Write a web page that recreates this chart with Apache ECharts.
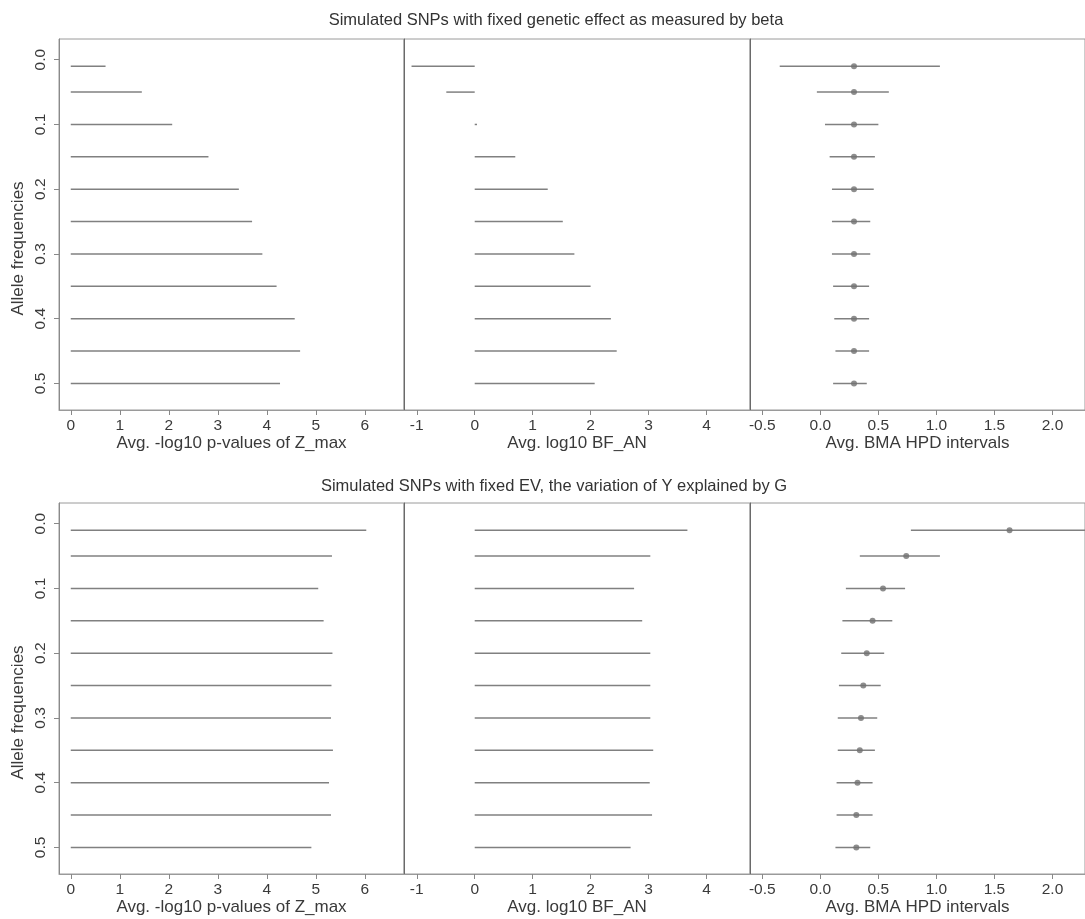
<!DOCTYPE html>
<html>
<head>
<meta charset="utf-8">
<script src="https://cdn.jsdelivr.net/npm/echarts@6/dist/echarts.min.js"></script>
<style>
html,body{margin:0;padding:0;background:#fff;}
#c{width:1085px;height:919px;}
</style>
</head>
<body>
<div id="c"></div>
<script>
// ---- data ----
var freqs = [0.01, 0.05, 0.10, 0.15, 0.20, 0.25, 0.30, 0.35, 0.40, 0.45, 0.50];
var yTicks = [0.0, 0.1, 0.2, 0.3, 0.4, 0.5];
var xTicksZ = [0, 1, 2, 3, 4, 5, 6];
var xTicksBF = [-1, 0, 1, 2, 3, 4];
var xTicksHPD = [-0.5, 0.0, 0.5, 1.0, 1.5, 2.0];

// Row 1: fixed genetic effect (beta)
var betaZmax = [0.71, 1.45, 2.07, 2.81, 3.43, 3.70, 3.91, 4.20, 4.57, 4.68, 4.27];
var betaBF = [-1.09, -0.49, 0.04, 0.70, 1.26, 1.52, 1.72, 2.00, 2.35, 2.45, 2.07];
var betaHpdLo = [-0.35, -0.03, 0.04, 0.08, 0.10, 0.10, 0.10, 0.11, 0.12, 0.13, 0.11];
var betaHpdMid = [0.29, 0.29, 0.29, 0.29, 0.29, 0.29, 0.29, 0.29, 0.29, 0.29, 0.29];
var betaHpdHi = [1.03, 0.59, 0.50, 0.47, 0.46, 0.43, 0.43, 0.42, 0.42, 0.42, 0.40];

// Row 2: fixed EV
var evZmax = [6.03, 5.33, 5.05, 5.16, 5.34, 5.32, 5.31, 5.35, 5.27, 5.31, 4.91];
var evBF = [3.67, 3.03, 2.75, 2.89, 3.03, 3.03, 3.03, 3.08, 3.02, 3.06, 2.69];
var evHpdLo = [0.78, 0.34, 0.22, 0.19, 0.18, 0.16, 0.15, 0.15, 0.14, 0.14, 0.13];
var evHpdMid = [1.63, 0.74, 0.54, 0.45, 0.40, 0.37, 0.35, 0.34, 0.32, 0.31, 0.31];
var evHpdHi = [2.60, 1.03, 0.73, 0.62, 0.55, 0.52, 0.49, 0.47, 0.45, 0.45, 0.43];

var titles = ['Simulated SNPs with fixed genetic effect as measured by beta',
              'Simulated SNPs with fixed EV, the variation of Y explained by G'];
var xNames = ['Avg. -log10 p-values of Z_max', 'Avg. log10 BF_AN', 'Avg. BMA HPD intervals'];
var yName = 'Allele frequencies';

// ---- build ----
var FONT = 'Liberation Sans, Arial, sans-serif';
var LINE = '#808080';
var TXT = '#3a3a3a';
var colLeft = [59, 404, 750];
var colWidth = [345, 346, 335];
var rowTop = [39, 503];
var rowHeight = 371;
var xRanges = [[-0.24, 6.80], [-1.22, 4.75], [-0.606, 2.28]];
var xTickSets = [xTicksZ, xTicksBF, xTicksHPD];

function toIntervals(lo, hi) {
  return freqs.map(function (f, i) { return [f, lo[i], hi[i]]; });
}
function fromZero(vals) {
  return freqs.map(function (f, i) { return [f, Math.min(0, vals[i]), Math.max(0, vals[i])]; });
}
var panelData = [
  [fromZero(betaZmax), fromZero(betaBF), toIntervals(betaHpdLo, betaHpdHi)],
  [fromZero(evZmax), fromZero(evBF), toIntervals(evHpdLo, evHpdHi)]
];
var panelMid = [betaHpdMid, evHpdMid];

function renderInterval(params, api) {
  var y = api.value(0), lo = api.value(1), hi = api.value(2);
  var p1 = api.coord([lo, y]);
  var p2 = api.coord([hi, y]);
  return {
    type: 'line',
    shape: {x1: p1[0], y1: p1[1], x2: p2[0], y2: p2[1]},
    style: {stroke: LINE, lineWidth: 1.5}
  };
}

var grids = [], xAxes = [], yAxes = [], series = [];
for (var r = 0; r < 2; r++) {
  for (var c = 0; c < 3; c++) {
    var idx = r * 3 + c;
    grids.push({
      left: colLeft[c], top: rowTop[r], width: colWidth[c], height: rowHeight,
      show: true, borderColor: '#9a9a9a', borderWidth: 1, backgroundColor: 'transparent',
      containLabel: false
    });
    var isHpd = (c === 2);
    xAxes.push({
      type: 'value', gridIndex: idx, position: 'bottom',
      min: xRanges[c][0], max: xRanges[c][1],
      splitLine: {show: false},
      axisLine: {show: true, onZero: false, lineStyle: {color: '#9a9a9a', width: 1}},
      axisTick: {show: true, inside: false, length: 5, lineStyle: {color: '#888'},
                 customValues: xTickSets[c]},
      axisLabel: {show: true, margin: 8, color: TXT, fontSize: 15.5, fontFamily: FONT,
                  customValues: xTickSets[c],
                  formatter: (function (h) { return function (v) { return h ? v.toFixed(1) : String(Math.round(v)); }; })(isHpd)},
      name: xNames[c], nameLocation: 'middle', nameGap: 25,
      nameTextStyle: {color: TXT, fontSize: 17, fontFamily: FONT}
    });
    var yA = {
      type: 'value', gridIndex: idx, inverse: true,
      min: -0.032, max: 0.541,
      splitLine: {show: false},
      axisLine: {show: true, onZero: false, lineStyle: {color: c === 0 ? '#8a8a8a' : '#6a6a6a', width: 1}},
      axisTick: {show: c === 0, length: 5, lineStyle: {color: '#888'}, customValues: yTicks},
      axisLabel: {show: c === 0, rotate: 90, margin: 10, color: TXT, fontSize: 15.5, fontFamily: FONT,
                  customValues: yTicks,
                  formatter: function (v) { return v.toFixed(1); }}
    };
    if (c === 0) {
      yA.name = yName;
      yA.nameLocation = 'middle';
      yA.nameGap = 32;
      yA.nameRotate = 90;
      yA.nameTextStyle = {color: TXT, fontSize: 17, fontFamily: FONT, padding: [0, 48, 0, 0]};
    }
    yAxes.push(yA);
    series.push({
      type: 'custom', xAxisIndex: idx, yAxisIndex: idx, clip: true,
      renderItem: renderInterval,
      encode: {x: [1, 2], y: 0},
      data: panelData[r][c],
      silent: true, animation: false
    });
    if (isHpd) {
      series.push({
        type: 'scatter', xAxisIndex: idx, yAxisIndex: idx,
        symbol: 'circle', symbolSize: 6,
        itemStyle: {color: '#707070'},
        data: freqs.map(function (f, i) { return [panelMid[r][i], f]; }),
        silent: true, animation: false
      });
    }
  }
}

var chart = echarts.init(document.getElementById('c'), null, {renderer: 'canvas'});
chart.setOption({
  backgroundColor: '#fff',
  animation: false,
  title: [
    {text: titles[0], left: 551, top: 7, textAlign: 'center',
     textStyle: {fontSize: 16.5, fontWeight: 'normal', color: '#333', fontFamily: FONT}},
    {text: titles[1], left: 549, top: 473, textAlign: 'center',
     textStyle: {fontSize: 16.5, fontWeight: 'normal', color: '#333', fontFamily: FONT}}
  ],
  grid: grids,
  xAxis: xAxes,
  yAxis: yAxes,
  series: series
});
</script>
</body>
</html>
